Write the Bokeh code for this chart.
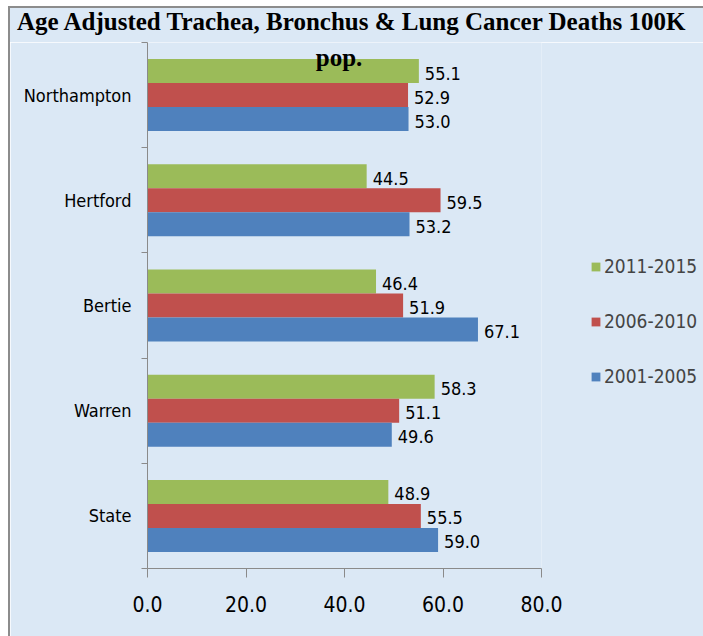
from bokeh.plotting import figure
from bokeh.layouts import column
from bokeh.models import (Label, Legend, LegendItem, FixedTicker, ColumnDataSource, Div)
from bokeh.embed import file_html
from bokeh.resources import INLINE
from bokeh.core.properties import value

# ---- data ----
counties = ["State", "Warren", "Bertie", "Hertford", "Northampton"]  # bottom -> top
series_names = ["2011-2015", "2006-2010", "2001-2005"]
v_2011_2015 = [48.9, 58.3, 46.4, 44.5, 55.1]
v_2006_2010 = [55.5, 51.1, 51.9, 59.5, 52.9]
v_2001_2005 = [59.0, 49.6, 67.1, 53.2, 53.0]
x_ticks = [0, 20, 40, 60, 80]
x_tick_labels = ["0.0", "20.0", "40.0", "60.0", "80.0"]
title_line1 = "Age Adjusted Trachea, Bronchus & Lung Cancer Deaths 100K"
title_line2 = "pop."

colors = {"2011-2015": "#9bbb59", "2006-2010": "#c0504d", "2001-2005": "#4f81bd"}
offsets = {"2011-2015": 0.228, "2006-2010": 0.0, "2001-2005": -0.228}
series_vals = {"2011-2015": v_2011_2015, "2006-2010": v_2006_2010, "2001-2005": v_2001_2005}

BG = "#dbe8f5"
AX = "#8a8a8a"
SANS = "DejaVu Sans Condensed"
SERIF = "Liberation Serif"

W = 693
TOP_H = 34

# ---- title strip ----
title_div = Div(text=title_line1, width=W, height=TOP_H,
                styles={"background-color": BG, "font-family": "'Liberation Serif', serif",
                        "font-weight": "bold", "font-size": "25px", "line-height": "23px",
                        "color": "#000000", "white-space": "nowrap", "padding-left": "7px",
                        "padding-top": "2px",
                        "box-sizing": "border-box", "margin": "0", "overflow": "visible"})

# ---- main chart ----
p = figure(width=W, height=628 - TOP_H, output_backend="svg", toolbar_location=None,
           x_range=(0, 80), y_range=(0, 5),
           min_border_left=137, min_border_right=162, min_border_top=0, min_border_bottom=68)
p.frame_width = 394
p.frame_height = 526
p.background_fill_color = BG
p.border_fill_color = BG
p.outline_line_color = None
p.xgrid.grid_line_color = None
p.ygrid.grid_line_color = None

centers = [i + 0.5 for i in range(len(counties))]
renderers = {}
for s in series_names:
    ys = [c + offsets[s] for c in centers]
    src = ColumnDataSource(dict(y=ys, x=series_vals[s],
                                lab=["%.1f" % v for v in series_vals[s]]))
    r = p.hbar(y="y", right="x", left=0, height=0.228, source=src,
               fill_color=colors[s], line_color=None)
    renderers[s] = r
    p.text(x="x", y="y", text="lab", source=src, x_offset=6, y_offset=2,
           text_align="left", text_baseline="middle",
           text_font=value(SANS), text_font_size="18px", text_color="#000000")

# x axis
xa = p.xaxis[0]
xa.ticker = FixedTicker(ticks=x_ticks, minor_ticks=[])
xa.major_label_overrides = {t: l for t, l in zip(x_ticks, x_tick_labels)}
xa.axis_line_color = AX
xa.major_tick_line_color = AX
xa.major_tick_in = 0
xa.major_tick_out = 9
xa.major_label_standoff = 18
xa.major_label_text_font = SANS
xa.major_label_text_font_size = "21px"
xa.major_label_text_color = "#000000"

# y axis
ya = p.yaxis[0]
ya.ticker = FixedTicker(ticks=centers, minor_ticks=[0, 1, 2, 3, 4, 5])
ya.major_label_overrides = {c: n for c, n in zip(centers, counties)}
ya.axis_line_color = AX
ya.major_tick_line_color = None
ya.major_tick_in = 0
ya.major_tick_out = 0
ya.minor_tick_line_color = AX
ya.minor_tick_in = 0
ya.minor_tick_out = 6
ya.major_label_standoff = 10
ya.major_label_text_font = SANS
ya.major_label_text_font_size = "18px"
ya.major_label_text_color = "#000000"

# legend
items = [LegendItem(label=s, renderers=[renderers[s]]) for s in series_names]
legend = Legend(items=items, location=(49, 181), orientation="vertical",
                glyph_width=11, glyph_height=11, label_standoff=3,
                label_height=20, spacing=33, padding=0, margin=0,
                label_text_font=SANS, label_text_font_size="19px",
                border_line_color=None, background_fill_alpha=0)
p.add_layout(legend, "right")

# second title line overlaps the top of the plot area, as in the reference
p.add_layout(Label(x=191.5, y=511, x_units="screen", y_units="screen", text=title_line2,
                   text_align="center", text_baseline="alphabetic",
                   text_font=SERIF, text_font_style="bold",
                   text_font_size="25px", text_color="#000000"))

layout = column(title_div, p, spacing=0,
                styles={"margin-left": "8px", "margin-top": "6px",
                        "border-left": "2px solid #8c8c8c", "border-top": "2px solid #8c8c8c"})

open("out.html", "w").write(file_html(layout, INLINE))
